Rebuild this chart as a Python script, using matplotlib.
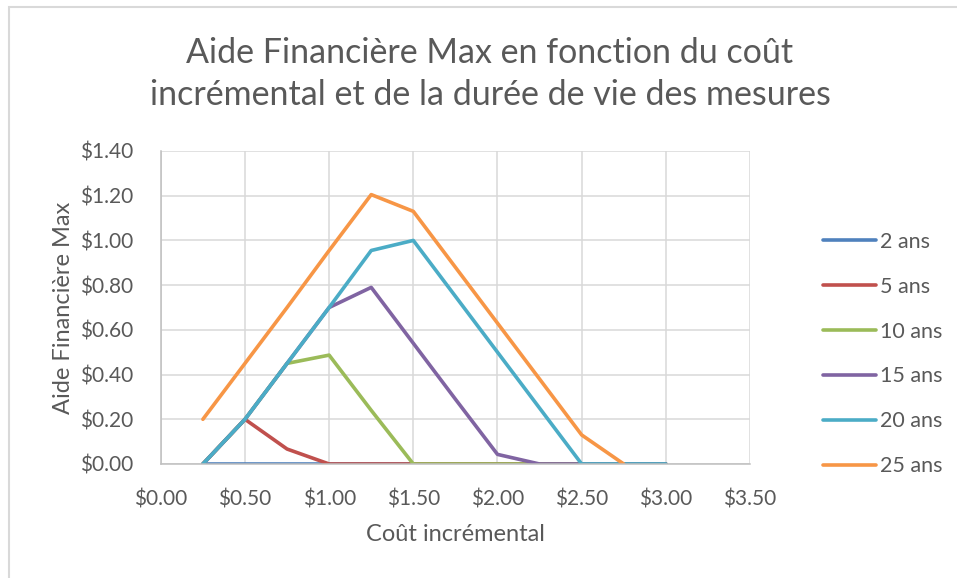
import matplotlib
matplotlib.use("Agg")
import matplotlib.pyplot as plt
from matplotlib.patches import Rectangle
from matplotlib.ticker import FuncFormatter, MultipleLocator

plt.rcParams['font.family'] = ['Lato', 'DejaVu Sans']

cout = [0.25, 0.50, 0.75, 1.00, 1.25, 1.50, 1.75, 2.00, 2.25, 2.50, 2.75, 3.00]
ans2 = [0, 0, 0, 0, 0, 0, 0, 0, 0, 0, 0, 0]
ans5 = [0, 0.20, 0.067, 0, 0, 0, 0, 0, 0, 0, 0, 0]
ans10 = [0, 0.20, 0.45, 0.487, 0.24, 0, 0, 0, 0, 0, 0, 0]
ans15 = [0, 0.20, 0.45, 0.70, 0.79, 0.54, 0.29, 0.043, 0, 0, 0, 0]
ans20 = [0, 0.20, 0.45, 0.70, 0.955, 1.00, 0.75, 0.50, 0.25, 0, 0, 0]
cout25 = [0.25, 0.50, 0.75, 1.00, 1.25, 1.50, 1.75, 2.00, 2.25, 2.50, 2.75]
ans25 = [0.20, 0.45, 0.70, 0.955, 1.205, 1.13, 0.88, 0.63, 0.38, 0.13, 0]

labels = ["2 ans", "5 ans", "10 ans", "15 ans", "20 ans", "25 ans"]
colors = ["#4F81BD", "#C0504D", "#9BBB59", "#8064A2", "#4BACC6", "#F79646"]
series = [(cout, ans2), (cout, ans5), (cout, ans10), (cout, ans15), (cout, ans20), (cout25, ans25)]

W, H = 957, 578
fig = plt.figure(figsize=(W / 100, H / 100), dpi=100)
fig.patch.set_facecolor("white")

# chart border (only top and left visible)
fig.patches.append(Rectangle((9 / W, -0.05), 1.1, (H - 7) / H + 0.05, transform=fig.transFigure,
                             fill=False, edgecolor="#D9D9D9", linewidth=1.5))

left, right, top, bottom = 160.8, 750, 151, 464
ax = fig.add_axes([left / W, (H - bottom) / H, (right - left) / W, (bottom - top) / H])

text_color = "#595959"
handles = []
for (xs, ys), lab, col in zip(series, labels, colors):
    h, = ax.plot(xs, ys, color=col, linewidth=2.6, label=lab, solid_capstyle="round",
                 solid_joinstyle="round")
    handles.append(h)

ax.set_xlim(0, 3.5)
ax.set_ylim(0, 1.4)
ax.xaxis.set_major_locator(MultipleLocator(0.5))
ax.yaxis.set_major_locator(MultipleLocator(0.2))
ax.xaxis.set_major_formatter(FuncFormatter(lambda v, p: f"${v:.2f}"))
ax.yaxis.set_major_formatter(FuncFormatter(lambda v, p: f"${v:.2f}"))
ax.grid(True, color="#D9D9D9", linewidth=1.1)
ax.set_axisbelow(True)
for s in ["top", "right"]:
    ax.spines[s].set_visible(False)
for s in ["left", "bottom"]:
    ax.spines[s].set_color("#BFBFBF")
    ax.spines[s].set_linewidth(1.1)
ax.tick_params(length=0, labelsize=15, labelcolor=text_color)
ax.tick_params(axis='x', pad=18)
ax.tick_params(axis='y', pad=20)

ax.set_xlabel("Coût incrémental", fontsize=17, color=text_color, labelpad=11)
ax.set_ylabel("Aide Financière Max", fontsize=17, color=text_color, labelpad=4)

fig.text(490 / W, (H - 74) / H,
         "Aide Financière Max en fonction du coût\nincrémental et de la durée de vie des mesures",
         ha="center", va="center", fontsize=24.5, color=text_color, linespacing=1.42)

leg = fig.legend(handles=handles, loc="center left", bbox_to_anchor=(804 / W, (H - 354) / H),
                 frameon=False, fontsize=15.5, handlelength=2.45, handletextpad=0.18,
                 labelspacing=1.16, labelcolor=text_color)

fig.savefig("out.png", dpi=100, facecolor="white")
